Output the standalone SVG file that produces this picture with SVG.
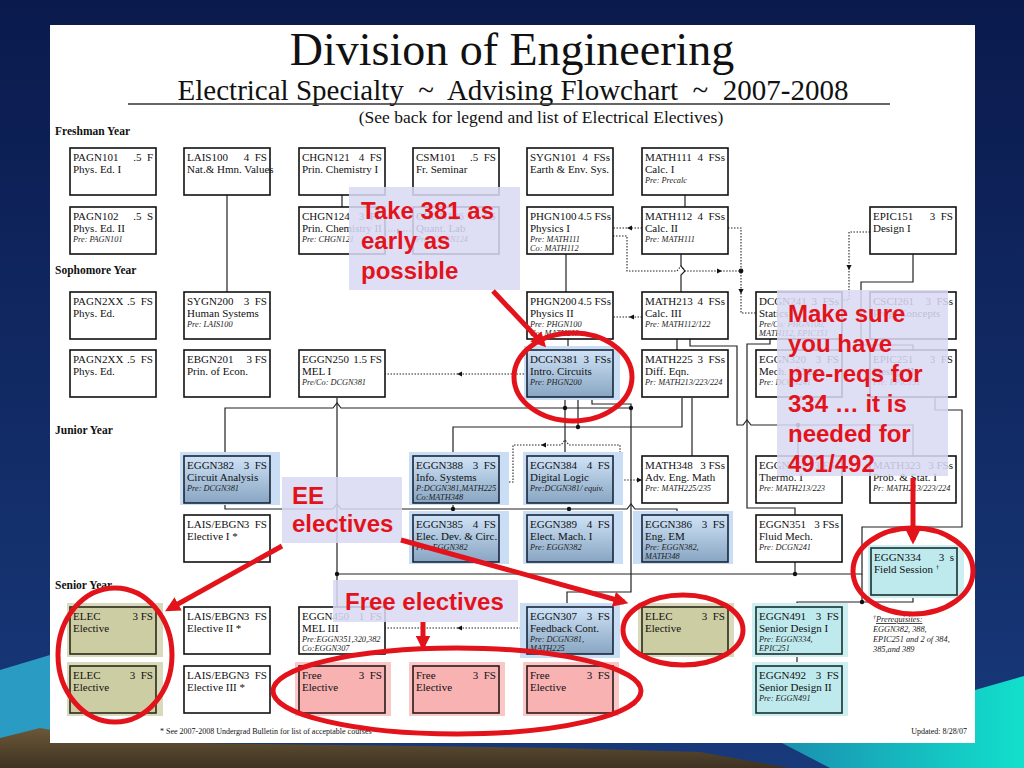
<svg xmlns="http://www.w3.org/2000/svg" xmlns:xlink="http://www.w3.org/1999/xlink" width="1024" height="768" viewBox="0 0 1024 768">
<defs>
<style>
.b{fill:#fff;stroke:#111;stroke-width:1.6}
.bl{fill:url(#gBlue);stroke:#17253a;stroke-width:1.6}
.hb{fill:#c9def4}
.ol{fill:#cdcda4;stroke:#2a2a1a;stroke-width:1.6}
.ho{fill:#d9d9bc}
.pk{fill:#f8b2b2;stroke:#2a1a1a;stroke-width:1.6}
.hp{fill:#fbc6c6}
.tl{fill:#bfeaed;stroke:#17302f;stroke-width:1.6}
.ht{fill:#cdeff1}
.t{font-family:"Liberation Serif",serif;font-size:11px;fill:#111}
.e{text-anchor:end}
.p{font-family:"Liberation Serif",serif;font-size:8.3px;font-style:italic;fill:#222}
.yr{font-family:"Liberation Serif",serif;font-size:11.5px;font-weight:bold;fill:#111}
.c{fill:none;stroke:#222;stroke-width:1.2}
.d{fill:none;stroke:#222;stroke-width:1.1;stroke-dasharray:1.5 1.5}
.dot{fill:#111}
.ov{fill:#d8d8f3;fill-opacity:0.86}
.rt{font-family:"Liberation Sans",Arial,sans-serif;font-weight:bold;font-size:24px;fill:#e3131b}
.rl{fill:none;stroke:#e3131b;stroke-width:5}
.hd{font-family:"Liberation Serif",serif;fill:#111;text-anchor:middle}
</style>
<linearGradient id="gBlue" x1="0" y1="0" x2="0" y2="1"><stop offset="0" stop-color="#cfe3f7"/><stop offset="1" stop-color="#88a5c2"/></linearGradient>
<linearGradient id="bg" x1="0" y1="0" x2="0" y2="1"><stop offset="0" stop-color="#0a1a4d"/><stop offset="1" stop-color="#18397a"/></linearGradient>
<linearGradient id="brown" x1="0" y1="0" x2="0" y2="1"><stop offset="0" stop-color="#6b5838"/><stop offset="1" stop-color="#3e3222"/></linearGradient>
<linearGradient id="cyan" x1="0" y1="0" x2="1" y2="0"><stop offset="0" stop-color="#1a8fb0"/><stop offset="1" stop-color="#12e0cc"/></linearGradient>
<path id="al" d="M0,0 L5,-2.6 L5,2.6 Z" fill="#111"/>
<marker id="ra" viewBox="0 0 10 10" refX="7" refY="5" markerWidth="15" markerHeight="15" markerUnits="userSpaceOnUse" orient="auto"><path d="M0,0 L10,5 L0,10 Z" fill="#e3131b"/></marker>
</defs>

<g id="background">
<rect x="0" y="0" width="1024" height="768" fill="url(#bg)"/>
<path d="M0,670 L50,655 L50,768 L0,768 Z" fill="#2a9cc4"/>
<path d="M830,768 L780,742 L975,742 L975,690 L1024,676 L1024,768 Z" fill="url(#cyan)"/>
<path d="M0,768 L0,738 L40,728 L120,742 L260,744 L420,746 L560,748 L700,752 L790,768 Z" fill="url(#brown)"/>
<rect x="50" y="25" width="925" height="718" fill="#fff"/>
</g>

<g id="title">
<text class="hd" x="512" y="65" font-size="46">Division of Engineering</text>
<text class="hd" x="513" y="100" font-size="29">Electrical Specialty &#160;~&#160; Advising Flowchart &#160;~&#160; 2007-2008</text>
<line x1="128" y1="104" x2="890" y2="104" stroke="#333" stroke-width="1.6"/>
<text class="hd" x="541" y="123" font-size="17.5">(See back for legend and list of Electrical Electives)</text>
<text class="yr" x="55" y="135">Freshman Year</text>
<text class="yr" x="55" y="274">Sophomore Year</text>
<text class="yr" x="55" y="434">Junior Year</text>
<text class="yr" x="55" y="589">Senior Year</text>
<text x="160" y="734" font-family="Liberation Serif,serif" font-size="8" fill="#111">* See 2007-2008 Undergrad Bulletin for list of acceptable courses</text>
<text x="967" y="734" text-anchor="end" font-family="Liberation Serif,serif" font-size="8" fill="#111">Updated: 8/28/07</text>
<g id="prereq-note" class="p">
<text x="873" y="622"><tspan font-size="6" dy="-3">†</tspan><tspan dy="3" text-decoration="underline">Prerequisites:</tspan></text>
<text x="873" y="632">EGGN382, 388,</text>
<text x="873" y="642">EPIC251 and 2 of 384,</text>
<text x="873" y="652">385,and 389</text>
</g>
</g>

<g id="connectors">
<path class="c" d="M342,195 V207"/>
<path class="c" d="M685,195 V207"/>
<path class="c" d="M227,195 V292"/>
<path class="c" d="M566,254 V292"/>
<path class="c" d="M681,254 V266 L685,271 L681,275 V292"/>
<path class="c" d="M913,254 V282 H861 V345 H913 V350"/>
<path class="c" d="M568,339 V350"/>
<path class="c" d="M677,339 V350"/>
<path class="c" d="M225,456 V408 H333 L337,403 L341,408 H631"/>
<path class="c" d="M337,398 V607"/>
<path class="c" d="M565,398 V456"/>
<path class="c" d="M578,398 V427"/>
<path class="c" d="M453,456 V427 H682 V398"/>
<path class="c" d="M692,398 V456"/>
<path class="c" d="M592,398 V404 H631 V592 H567 V607"/>
<path class="c" d="M690,339 V346 H737 V425 H743 L747,420 L751,425 H913 V456"/>
<path class="c" d="M798,425 V456"/>
<path class="c" d="M770,339 V344 H747 V508 H795 V515"/>
<path class="c" d="M225,503 V509 H333 L337,504 L341,509 H627 L631,504 L635,509 H677 V515"/>
<path class="c" d="M453,503 V515"/>
<path class="c" d="M569,509 V515"/>
<path class="c" d="M337,574 H862 V527 H962 V410 H935 V397"/>
<path class="c" d="M795,562 V574"/>
<path class="c" d="M862,574 V602"/>
<path class="c" d="M797,607 V602 H913 V595"/>
<path class="c" d="M797,654 V666"/>
<circle class="dot" cx="565" cy="408" r="2.2"/>
<circle class="dot" cx="631" cy="408" r="2.2"/>
<circle class="dot" cx="578" cy="427" r="2.2"/>
<circle class="dot" cx="453" cy="509" r="2.2"/>
<circle class="dot" cx="569" cy="509" r="2.2"/>
<circle class="dot" cx="337" cy="574" r="2.2"/>
<circle class="dot" cx="795" cy="574" r="2.2"/>
<circle class="dot" cx="862" cy="602" r="2.2"/>
<circle class="dot" cx="798" cy="425" r="2.2"/>
<circle class="dot" cx="741" cy="271" r="2.4"/>
<path class="d" d="M385,231 H413"/>
<use href="#al" transform="translate(402,231) rotate(180)"/>
<path class="d" d="M642,228 H613"/>
<use href="#al" transform="translate(627,228)"/>
<path class="d" d="M613,236 H627 V271 H677 L681,266 L685,271 H741"/>
<use href="#al" transform="translate(722,271) rotate(180)"/>
<path class="d" d="M728,228 H741 V313 H756"/>
<use href="#al" transform="translate(741,294) rotate(-90)"/>
<path class="d" d="M870,232 H849 V300 H842"/>
<use href="#al" transform="translate(849,270) rotate(-90)"/>
<path class="d" d="M642,317 H613"/>
<use href="#al" transform="translate(629,317)"/>
<path class="d" d="M527,374 H385"/>
<use href="#al" transform="translate(457,374)"/>
<path class="d" d="M500,482 H513 V445 H561 L565,440 L569,445 H620 V480 H642"/>
<use href="#al" transform="translate(541,445)"/>
<use href="#al" transform="translate(642,480) rotate(180)"/>
<path class="d" d="M527,628 H385"/>
<use href="#al" transform="translate(457,628)"/>
</g>

<g id="nodes">
<g id="n-pagn101"><rect class="b" x="70" y="148" width="86" height="47"/><text class="t" x="73" y="160.5">PAGN101</text><text class="t e" x="153" y="160.5">.5 &#160;F</text><text class="t" x="73" y="173">Phys. Ed. I</text></g>
<g id="n-lais100"><rect class="b" x="184" y="148" width="86" height="47"/><text class="t" x="187" y="160.5">LAIS100</text><text class="t e" x="267" y="160.5">4 &#160;FS</text><text class="t" x="187" y="173">Nat.&amp; Hmn. Values</text></g>
<g id="n-chgn121"><rect class="b" x="299" y="148" width="86" height="47"/><text class="t" x="302" y="160.5">CHGN121</text><text class="t e" x="382" y="160.5">4 &#160;FS</text><text class="t" x="302" y="173">Prin. Chemistry I</text></g>
<g id="n-csm101"><rect class="b" x="413" y="148" width="86" height="47"/><text class="t" x="416" y="160.5">CSM101</text><text class="t e" x="496" y="160.5">.5 &#160;FS</text><text class="t" x="416" y="173">Fr. Seminar</text></g>
<g id="n-sygn101"><rect class="b" x="527" y="148" width="86" height="47"/><text class="t" x="530" y="160.5">SYGN101</text><text class="t e" x="610" y="160.5">4 &#160;FSs</text><text class="t" x="530" y="173">Earth &amp; Env. Sys.</text></g>
<g id="n-math111"><rect class="b" x="642" y="148" width="86" height="47"/><text class="t" x="645" y="160.5">MATH111</text><text class="t e" x="725" y="160.5">4 &#160;FSs</text><text class="t" x="645" y="173">Calc. I</text><text class="p" x="645" y="183">Pre: Precalc</text></g>

<g id="n-pagn102"><rect class="b" x="70" y="207" width="86" height="47"/><text class="t" x="73" y="219.5">PAGN102</text><text class="t e" x="153" y="219.5">.5 &#160;S</text><text class="t" x="73" y="232">Phys. Ed. II</text><text class="p" x="73" y="242">Pre: PAGN101</text></g>
<g id="n-chgn124"><rect class="b" x="299" y="207" width="86" height="47"/><text class="t" x="302" y="219.5">CHGN124</text><text class="t e" x="382" y="219.5">3 &#160;FS</text><text class="t" x="302" y="232">Prin. Chemistry II</text><text class="p" x="302" y="242">Pre: CHGN121</text></g>
<g id="n-chgn126"><rect class="b" x="413" y="207" width="86" height="47"/><text class="t" x="416" y="219.5">CHGN126</text><text class="t e" x="496" y="219.5">1 &#160;FS</text><text class="t" x="416" y="232">Quant. Lab</text><text class="p" x="416" y="242">Pre: CHGN124</text></g>
<g id="n-phgn100"><rect class="b" x="527" y="207" width="86" height="47"/><text class="t" x="530" y="219.5">PHGN100</text><text class="t e" x="611" y="219.5">4.5 FSs</text><text class="t" x="530" y="232">Physics I</text><text class="p" x="530" y="242">Pre: MATH111</text><text class="p" x="530" y="251">Co: MATH112</text></g>
<g id="n-math112"><rect class="b" x="642" y="207" width="86" height="47"/><text class="t" x="645" y="219.5">MATH112</text><text class="t e" x="725" y="219.5">4 &#160;FSs</text><text class="t" x="645" y="232">Calc. II</text><text class="p" x="645" y="242">Pre: MATH111</text></g>
<g id="n-epic151"><rect class="b" x="870" y="207" width="86" height="47"/><text class="t" x="873" y="219.5">EPIC151</text><text class="t e" x="953" y="219.5">3 &#160;FS</text><text class="t" x="873" y="232">Design I</text></g>

<g id="n-pagn2xx-a"><rect class="b" x="70" y="292" width="86" height="47"/><text class="t" x="73" y="304.5">PAGN2XX</text><text class="t e" x="153" y="304.5">.5 &#160;FS</text><text class="t" x="73" y="317">Phys. Ed.</text></g>
<g id="n-sygn200"><rect class="b" x="184" y="292" width="86" height="47"/><text class="t" x="187" y="304.5">SYGN200</text><text class="t e" x="267" y="304.5">3 &#160;FS</text><text class="t" x="187" y="317">Human Systems</text><text class="p" x="187" y="327">Pre: LAIS100</text></g>
<g id="n-phgn200"><rect class="b" x="527" y="292" width="86" height="47"/><text class="t" x="530" y="304.5">PHGN200</text><text class="t e" x="611" y="304.5">4.5 FSs</text><text class="t" x="530" y="317">Physics II</text><text class="p" x="530" y="327">Pre: PHGN100</text><text class="p" x="530" y="336">Co: MATH213</text></g>
<g id="n-math213"><rect class="b" x="642" y="292" width="86" height="47"/><text class="t" x="645" y="304.5">MATH213</text><text class="t e" x="725" y="304.5">4 &#160;FSs</text><text class="t" x="645" y="317">Calc. III</text><text class="p" x="645" y="327">Pre: MATH112/122</text></g>
<g id="n-dcgn241"><rect class="b" x="756" y="292" width="86" height="47"/><text class="t" x="759" y="304.5">DCGN241</text><text class="t e" x="839" y="304.5">3 &#160;FSs</text><text class="t" x="759" y="317">Statics</text><text class="p" x="759" y="327">Pre/Co: PHGN100,</text><text class="p" x="759" y="336">MATH112, EPIC151</text></g>
<g id="n-csci261"><rect class="b" x="870" y="292" width="86" height="47"/><text class="t" x="873" y="304.5">CSCI261</text><text class="t e" x="953" y="304.5">3 &#160;FSs</text><text class="t" x="873" y="317">Prog. Concepts</text></g>

<g id="n-pagn2xx-b"><rect class="b" x="70" y="350" width="86" height="47"/><text class="t" x="73" y="362.5">PAGN2XX</text><text class="t e" x="153" y="362.5">.5 &#160;FS</text><text class="t" x="73" y="375">Phys. Ed.</text></g>
<g id="n-ebgn201"><rect class="b" x="184" y="350" width="86" height="47"/><text class="t" x="187" y="362.5">EBGN201</text><text class="t e" x="267" y="362.5">3 FS</text><text class="t" x="187" y="375">Prin. of Econ.</text></g>
<g id="n-eggn250"><rect class="b" x="299" y="350" width="86" height="47"/><text class="t" x="302" y="362.5">EGGN250</text><text class="t e" x="382" y="362.5">1.5 FS</text><text class="t" x="302" y="375">MEL I</text><text class="p" x="302" y="385">Pre/Co: DCGN381</text></g>
<g id="n-dcgn381"><rect class="hb" x="524" y="346" width="96" height="54"/><rect class="bl" x="527" y="350" width="86" height="47"/><text class="t" x="530" y="362.5">DCGN381</text><text class="t e" x="611" y="362.5">3 &#160;FSs</text><text class="t" x="530" y="375">Intro. Circuits</text><text class="p" x="530" y="385">Pre: PHGN200</text></g>
<g id="n-math225"><rect class="b" x="642" y="350" width="86" height="47"/><text class="t" x="645" y="362.5">MATH225</text><text class="t e" x="725" y="362.5">3 &#160;FSs</text><text class="t" x="645" y="375">Diff. Eqn.</text><text class="p" x="645" y="385">Pr: MATH213/223/224</text></g>
<g id="n-eggn320"><rect class="b" x="756" y="350" width="86" height="47"/><text class="t" x="759" y="362.5">EGGN320</text><text class="t e" x="839" y="362.5">3 &#160;FS</text><text class="t" x="759" y="375">Mech. of Mat.</text><text class="p" x="759" y="385">Pre: DCGN241</text></g>
<g id="n-epic251"><rect class="b" x="870" y="350" width="86" height="47"/><text class="t" x="873" y="362.5">EPIC251</text><text class="t e" x="953" y="362.5">3 &#160;FS</text><text class="t" x="873" y="375">Design II</text><text class="p" x="873" y="385">Pre: EPIC151</text></g>

<g id="n-eggn382"><rect class="hb" x="180" y="452" width="100" height="53"/><rect class="bl" x="184" y="456" width="86" height="47"/><text class="t" x="187" y="468.5">EGGN382</text><text class="t e" x="267" y="468.5">3 &#160;FS</text><text class="t" x="187" y="481">Circuit Analysis</text><text class="p" x="187" y="491">Pre: DCGN381</text></g>
<g id="n-eggn388"><rect class="hb" x="409" y="452" width="100" height="53"/><rect class="bl" x="413" y="456" width="86" height="47"/><text class="t" x="416" y="468.5">EGGN388</text><text class="t e" x="496" y="468.5">3 &#160;FS</text><text class="t" x="416" y="481">Info. Systems</text><text class="p" x="416" y="491">P:DCGN381,MATH225</text><text class="p" x="416" y="500">Co:MATH348</text></g>
<g id="n-eggn384"><rect class="hb" x="523" y="452" width="100" height="53"/><rect class="bl" x="527" y="456" width="86" height="47"/><text class="t" x="530" y="468.5">EGGN384</text><text class="t e" x="610" y="468.5">4 &#160;FS</text><text class="t" x="530" y="481">Digital Logic</text><text class="p" x="530" y="491">Pre:DCGN381/ equiv.</text></g>
<g id="n-math348"><rect class="b" x="642" y="456" width="86" height="47"/><text class="t" x="645" y="468.5">MATH348</text><text class="t e" x="725" y="468.5">3 FSs</text><text class="t" x="645" y="481">Adv. Eng. Math</text><text class="p" x="645" y="491">Pre: MATH225/235</text></g>
<g id="n-eggn371"><rect class="b" x="756" y="456" width="86" height="47"/><text class="t" x="759" y="468.5">EGGN371</text><text class="t e" x="839" y="468.5">3 FSs</text><text class="t" x="759" y="481">Thermo. I</text><text class="p" x="759" y="491">Pre: MATH213/223</text></g>
<g id="n-math323"><rect class="b" x="870" y="456" width="86" height="47"/><text class="t" x="873" y="468.5">MATH323</text><text class="t e" x="953" y="468.5">3 FSs</text><text class="t" x="873" y="481">Prob. &amp; Stat. I</text><text class="p" x="873" y="491">Pr: MATH213/223/224</text></g>

<g id="n-elective1"><rect class="b" x="184" y="515" width="86" height="47"/><text class="t" x="187" y="527.5">LAIS/EBGN</text><text class="t e" x="267" y="527.5">3 &#160;FS</text><text class="t" x="187" y="540">Elective I *</text></g>
<g id="n-eggn385"><rect class="hb" x="409" y="511" width="100" height="53"/><rect class="bl" x="413" y="515" width="86" height="47"/><text class="t" x="416" y="527.5">EGGN385</text><text class="t e" x="496" y="527.5">4 &#160;FS</text><text class="t" x="416" y="540">Elec. Dev. &amp; Circ.</text><text class="p" x="416" y="550">Pre: EGGN382</text></g>
<g id="n-eggn389"><rect class="hb" x="523" y="511" width="100" height="53"/><rect class="bl" x="527" y="515" width="86" height="47"/><text class="t" x="530" y="527.5">EGGN389</text><text class="t e" x="610" y="527.5">4 &#160;FS</text><text class="t" x="530" y="540">Elect. Mach. I</text><text class="p" x="530" y="550">Pre: EGGN382</text></g>
<g id="n-eggn386"><rect class="hb" x="633" y="511" width="100" height="53"/><rect class="bl" x="642" y="515" width="86" height="47"/><text class="t" x="645" y="527.5">EGGN386</text><text class="t e" x="725" y="527.5">3 &#160;FS</text><text class="t" x="645" y="540">Eng. EM</text><text class="p" x="645" y="550">Pre: EGGN382,</text><text class="p" x="645" y="559">MATH348</text></g>
<g id="n-eggn351"><rect class="b" x="756" y="515" width="86" height="47"/><text class="t" x="759" y="527.5">EGGN351</text><text class="t e" x="839" y="527.5">3 FSs</text><text class="t" x="759" y="540">Fluid Mech.</text><text class="p" x="759" y="550">Pre: DCGN241</text></g>
<g id="n-eggn334"><rect class="ht" x="868" y="545" width="96" height="53"/><rect class="tl" x="871" y="548" width="86" height="47"/><text class="t" x="874" y="560.5">EGGN334</text><text class="t e" x="954" y="560.5">3 &#160;s</text><text class="t" x="874" y="573">Field Session <tspan font-size="7" dy="-4">†</tspan></text></g>

<g id="n-elec1"><rect class="ho" x="67" y="603" width="96" height="54"/><rect class="ol" x="70" y="607" width="86" height="47"/><text class="t" x="73" y="619.5">ELEC</text><text class="t e" x="153" y="619.5">3 FS</text><text class="t" x="73" y="632">Elective</text></g>
<g id="n-elective2"><rect class="b" x="184" y="607" width="86" height="47"/><text class="t" x="187" y="619.5">LAIS/EBGN</text><text class="t e" x="267" y="619.5">3 &#160;FS</text><text class="t" x="187" y="632">Elective II *</text></g>
<g id="n-eggn450"><rect class="b" x="299" y="607" width="86" height="47"/><text class="t" x="302" y="619.5">EGGN450</text><text class="t e" x="382" y="619.5">1 &#160;FS</text><text class="t" x="302" y="632">MEL III</text><text class="p" x="302" y="642">Pre:EGGN351,320,382</text><text class="p" x="302" y="651">Co:EGGN307</text></g>
<g id="n-eggn307"><rect class="hb" x="520" y="603" width="100" height="55"/><rect class="bl" x="527" y="607" width="86" height="47"/><text class="t" x="530" y="619.5">EGGN307</text><text class="t e" x="610" y="619.5">3 &#160;FS</text><text class="t" x="530" y="632">Feedback Cont.</text><text class="p" x="530" y="642">Pre: DCGN381,</text><text class="p" x="530" y="651">MATH225</text></g>
<g id="n-elec3"><rect class="ho" x="638" y="603" width="96" height="54"/><rect class="ol" x="642" y="607" width="86" height="47"/><text class="t" x="645" y="619.5">ELEC</text><text class="t e" x="725" y="619.5">3 &#160;FS</text><text class="t" x="645" y="632">Elective</text></g>
<g id="n-eggn491"><rect class="ht" x="752" y="603" width="96" height="54"/><rect class="tl" x="756" y="607" width="86" height="47"/><text class="t" x="759" y="619.5">EGGN491</text><text class="t e" x="839" y="619.5">3 &#160;FS</text><text class="t" x="759" y="632">Senior Design I</text><text class="p" x="759" y="642">Pre: EGGN334,</text><text class="p" x="759" y="651">EPIC251</text></g>

<g id="n-elec2"><rect class="ho" x="67" y="662" width="96" height="54"/><rect class="ol" x="70" y="666" width="86" height="47"/><text class="t" x="73" y="678.5">ELEC</text><text class="t e" x="153" y="678.5">3 &#160;FS</text><text class="t" x="73" y="691">Elective</text></g>
<g id="n-elective3"><rect class="b" x="184" y="666" width="86" height="47"/><text class="t" x="187" y="678.5">LAIS/EBGN</text><text class="t e" x="267" y="678.5">3 &#160;FS</text><text class="t" x="187" y="691">Elective III *</text></g>
<g id="n-free1"><rect class="hp" x="295" y="662" width="96" height="54"/><rect class="pk" x="299" y="666" width="86" height="47"/><text class="t" x="302" y="678.5">Free</text><text class="t e" x="382" y="678.5">3 &#160;FS</text><text class="t" x="302" y="691">Elective</text></g>
<g id="n-free2"><rect class="hp" x="409" y="662" width="96" height="54"/><rect class="pk" x="413" y="666" width="86" height="47"/><text class="t" x="416" y="678.5">Free</text><text class="t e" x="496" y="678.5">3 &#160;FS</text><text class="t" x="416" y="691">Elective</text></g>
<g id="n-free3"><rect class="hp" x="523" y="662" width="96" height="54"/><rect class="pk" x="527" y="666" width="86" height="47"/><text class="t" x="530" y="678.5">Free</text><text class="t e" x="610" y="678.5">3 &#160;FS</text><text class="t" x="530" y="691">Elective</text></g>
<g id="n-eggn492"><rect class="ht" x="752" y="662" width="96" height="54"/><rect class="tl" x="756" y="666" width="86" height="47"/><text class="t" x="759" y="678.5">EGGN492</text><text class="t e" x="839" y="678.5">3 &#160;FS</text><text class="t" x="759" y="691">Senior Design II</text><text class="p" x="759" y="701">Pre: EGGN491</text></g>
</g>

<g id="annotations">
<rect class="ov" x="349" y="187" width="171" height="103"/>
<text class="rt" x="361" y="219">Take 381 as</text>
<text class="rt" x="361" y="249">early as</text>
<text class="rt" x="361" y="279">possible</text>
<line class="rl" x1="493" y1="291" x2="543" y2="344" marker-end="url(#ra)"/>
<ellipse class="rl" cx="573" cy="377" rx="59" ry="44"/>

<rect class="ov" x="777" y="290" width="171" height="186"/>
<text class="rt" x="788" y="322">Make sure</text>
<text class="rt" x="788" y="352">you have</text>
<text class="rt" x="788" y="382">pre-reqs for</text>
<text class="rt" x="788" y="412">334 … it is</text>
<text class="rt" x="788" y="442">needed for</text>
<text class="rt" x="788" y="472">491/492</text>
<line class="rl" x1="913" y1="478" x2="913" y2="540" marker-end="url(#ra)"/>
<ellipse class="rl" cx="913" cy="571" rx="60" ry="43"/>

<rect class="ov" x="282" y="477" width="120" height="66"/>
<text class="rt" x="292" y="504">EE</text>
<text class="rt" x="292" y="532">electives</text>
<line class="rl" x1="282" y1="546" x2="169" y2="609" marker-end="url(#ra)"/>
<line class="rl" x1="401" y1="540" x2="624" y2="602" marker-end="url(#ra)"/>
<ellipse class="rl" cx="115" cy="655" rx="57" ry="67"/>
<ellipse class="rl" cx="683" cy="630" rx="60" ry="35"/>

<rect class="ov" x="333" y="580" width="185" height="42"/>
<text class="rt" x="345" y="610">Free electives</text>
<line class="rl" x1="423" y1="622" x2="423" y2="646" marker-end="url(#ra)"/>
<ellipse class="rl" cx="457" cy="691" rx="184" ry="43"/>
</g>
</svg>
